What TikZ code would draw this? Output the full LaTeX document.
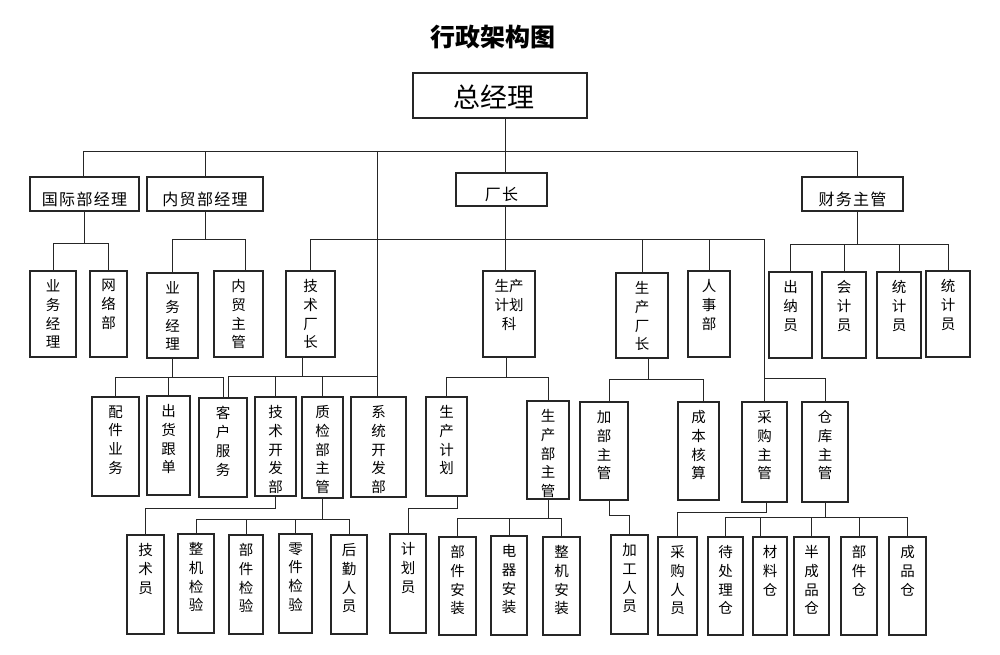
\documentclass[tikz,border=0pt]{standalone}
\usepackage{fontspec}
\setmainfont{Noto Sans CJK SC}
\newfontfamily\rowfont[LetterSpace=8]{Noto Sans CJK SC}
\tikzset{
  box/.style={draw=black!85, line width=1.1pt, inner sep=0pt},
  colbox/.style={box, label={[anchor=north, inner sep=0pt, yshift=-9pt, align=center,
      font=\fontsize{14.5}{18.7}\selectfont]north:{#1}}},
  rowbox/.style={box, label={[inner sep=0pt, yshift=-5pt,
      font=\rowfont\fontsize{16}{18}\selectfont]center:{#1}}},
  link/.style={draw=black!85, line width=0.9pt}
}
\begin{document}
\begin{tikzpicture}[x=1pt,y=-1pt]
  \useasboundingbox (0,0) rectangle (1000,655);
  \node[font=\bfseries\fontsize{25}{28}\selectfont] (title) at (493,37) {行政架构图};
  \node[box, minimum width=174, minimum height=45,
    label={[inner sep=0pt, xshift=-6pt, yshift=-1.5pt, font=\fontsize{27}{30}\selectfont]center:总经理}] (gm) at (500,95.5) {};

  % second level
  \node[rowbox=国际部经理, minimum width=109, minimum height=34] (gj) at (84.5,194) {};
  \node[rowbox=内贸部经理, minimum width=116, minimum height=34] (nm) at (205,194) {};
  \node[rowbox=厂长, minimum width=91, minimum height=33] (cz) at (501.5,189.5) {};
  \node[rowbox=财务主管, minimum width=101, minimum height=34] (cw) at (852.5,194) {};

  % third level
  \node[colbox={业\\务\\经\\理}, minimum width=46, minimum height=86] (ywA) at (53,314) {};
  \node[colbox={网\\络\\部}, minimum width=37, minimum height=86] (wl) at (108.5,314) {};
  \node[colbox={业\\务\\经\\理}, minimum width=51, minimum height=85] (ywB) at (172.5,315.5) {};
  \node[colbox={内\\贸\\主\\管}, minimum width=49, minimum height=86] (nmzg) at (238.5,314) {};
  \node[colbox={技\\术\\厂\\长}, minimum width=49, minimum height=86] (jscz) at (310.5,314) {};
  \node[colbox={生产\\计划\\科}, minimum width=52, minimum height=86] (jhk) at (509,314) {};
  \node[colbox={生\\产\\厂\\长}, minimum width=52, minimum height=85] (sccz) at (642,315.5) {};
  \node[colbox={人\\事\\部}, minimum width=42, minimum height=86] (rs) at (709,314) {};
  \node[colbox={出\\纳\\员}, minimum width=43, minimum height=86] (cn) at (790.5,315) {};
  \node[colbox={会\\计\\员}, minimum width=44, minimum height=86] (kj) at (844,315) {};
  \node[colbox={统\\计\\员}, minimum width=44, minimum height=86] (tjA) at (899,315) {};
  \node[colbox={统\\计\\员}, minimum width=44, minimum height=86] (tjB) at (948,314) {};

  % fourth level
  \node[colbox={配\\件\\业\\务}, minimum width=47, minimum height=99] (pj) at (115.5,446.5) {};
  \node[colbox={出\\货\\跟\\单}, minimum width=43, minimum height=99] (ch) at (168.5,445.5) {};
  \node[colbox={客\\户\\服\\务}, minimum width=48, minimum height=99] (kf) at (223,447.5) {};
  \node[colbox={技\\术\\开\\发\\部}, minimum width=41, minimum height=99] (jskf) at (275.5,446.5) {};
  \node[colbox={质\\检\\部\\主\\管}, minimum width=41, minimum height=101] (zj) at (322.5,447.5) {};
  \node[colbox={系\\统\\开\\发\\部}, minimum width=55, minimum height=100] (xt) at (378.5,447) {};
  \node[colbox={生\\产\\计\\划}, minimum width=41, minimum height=99] (scjh) at (446.5,446.5) {};
  \node[colbox={生\\产\\部\\主\\管}, minimum width=42, minimum height=98] (scb) at (548,450) {};
  \node[colbox={加\\部\\主\\管}, minimum width=48, minimum height=98] (jg) at (604,451) {};
  \node[colbox={成\\本\\核\\算}, minimum width=41, minimum height=98] (cb) at (698.5,451) {};
  \node[colbox={采\\购\\主\\管}, minimum width=45, minimum height=100] (cg) at (764.5,452) {};
  \node[colbox={仓\\库\\主\\管}, minimum width=46, minimum height=100] (ck) at (825,452) {};

  % fifth level
  \node[colbox={技\\术\\员}, minimum width=37, minimum height=99] (jsy) at (145.5,584.5) {};
  \node[colbox={整\\机\\检\\验}, minimum width=36, minimum height=99] (zjjy) at (196,583.5) {};
  \node[colbox={部\\件\\检\\验}, minimum width=34, minimum height=99] (bjjy) at (246,584.5) {};
  \node[colbox={零\\件\\检\\验}, minimum width=33, minimum height=99] (ljjy) at (295.5,583.5) {};
  \node[colbox={后\\勤\\人\\员}, minimum width=36, minimum height=99] (hq) at (349,584.5) {};
  \node[colbox={计\\划\\员}, minimum width=36, minimum height=99] (jhy) at (408,583.5) {};
  \node[colbox={部\\件\\安\\装}, minimum width=37, minimum height=98] (bjaz) at (457.5,586) {};
  \node[colbox={电\\器\\安\\装}, minimum width=36, minimum height=99] (dqaz) at (509,585.5) {};
  \node[colbox={整\\机\\安\\装}, minimum width=37, minimum height=98] (zjaz) at (561.5,586) {};
  \node[colbox={加\\工\\人\\员}, minimum width=37, minimum height=99] (jgry) at (629.5,584.5) {};
  \node[colbox={采\\购\\人\\员}, minimum width=39, minimum height=98] (cgry) at (677.5,586) {};
  \node[colbox={待\\处\\理\\仓}, minimum width=35, minimum height=98] (dcl) at (725.5,586) {};
  \node[colbox={材\\料\\仓}, minimum width=34, minimum height=98] (clc) at (770,586) {};
  \node[colbox={半\\成\\品\\仓}, minimum width=35, minimum height=98] (bcp) at (811.5,586) {};
  \node[colbox={部\\件\\仓}, minimum width=36, minimum height=98] (bjc) at (859,586) {};
  \node[colbox={成\\品\\仓}, minimum width=37, minimum height=98] (cpc) at (907.5,586) {};

  % bus levels
  \coordinate (b1) at (0,151);
  \coordinate (b2) at (0,243);
  \coordinate (b3) at (0,239);
  \coordinate (b4) at (0,239);
  \coordinate (b5) at (0,244);
  \coordinate (b6) at (0,377);
  \coordinate (b7) at (0,376);
  \coordinate (b8) at (0,377);
  \coordinate (b9) at (0,379);
  \coordinate (b10) at (0,378);
  \coordinate (b11) at (0,508);
  \coordinate (b12) at (0,519);
  \coordinate (b13) at (0,508);
  \coordinate (b14) at (0,518);
  \coordinate (b15) at (0,515);
  \coordinate (b16) at (0,512);
  \coordinate (b17) at (0,517);

  % off-centre ends
  \coordinate (gjT) at ([xshift=-1.5]gj.north);
  \coordinate (cwT) at ([xshift=4.5]cw.north);
  \coordinate (czT) at ([xshift=3.5]cz.north);
  \coordinate (xtT) at ([xshift=-1.5]xt.north);
  \coordinate (nmzgT) at ([xshift=7]nmzg.north);
  \coordinate (jsczB) at ([xshift=-8]jscz.south);
  \coordinate (kfT) at ([xshift=5]kf.north);
  \coordinate (jhkB) at ([xshift=-3]jhk.south);
  \coordinate (scczB) at ([xshift=6]sccz.south);
  \coordinate (jgT) at ([xshift=5]jg.north);
  \coordinate (cbT) at ([xshift=4.5]cb.north);
  \coordinate (scjhB) at ([xshift=10.5]scjh.south);
  \coordinate (jgB) at ([xshift=5]jg.south);
  \coordinate (cgB) at ([xshift=1.5]cg.south);
  \coordinate (clcT) at ([xshift=-10]clc.north);

  % general manager
  \draw[link] (czT |- gm.south) -- (czT);
  \draw[link] (gjT) |- (cwT |- b1) -- (cwT);
  \draw[link] (nm.north) -- (nm.north |- b1);
  \draw[link] (xtT |- b1) -- (xtT);

  % second level to third
  \draw[link] (gj.south) -- (gj.south |- b2);
  \draw[link] (ywA.north) |- (wl.north |- b2) -- (wl.north);
  \draw[link] (nm.south) -- (nm.south |- b3);
  \draw[link] (ywB.north) |- (nmzgT |- b3) -- (nmzgT);
  \draw[link] (czT |- cz.south) -- (czT |- jhk.north);
  \draw[link] (jscz.north) |- (cg.north |- b4) -- (cg.north);
  \draw[link] (sccz.north) -- (sccz.north |- b4);
  \draw[link] (rs.north) -- (rs.north |- b4);
  \draw[link] (cwT |- cw.south) -- (cwT |- b5);
  \draw[link] (cn.north) |- (tjB.north |- b5) -- (tjB.north);
  \draw[link] (kj.north) -- (kj.north |- b5);
  \draw[link] (tjA.north) -- (tjA.north |- b5);

  % third level to fourth
  \draw[link] (ywB.south) -- (ywB.south |- b6);
  \draw[link] (pj.north) |- (kf.north |- b6) -- (kf.north);
  \draw[link] (ch.north) -- (ch.north |- b6);
  \draw[link] (jsczB) -- (jsczB |- b7);
  \draw[link] (kfT) |- (xtT |- b7);
  \draw[link] (jskf.north) -- (jskf.north |- b7);
  \draw[link] (zj.north) -- (zj.north |- b7);
  \draw[link] (jhkB) -- (jhkB |- b8);
  \draw[link] (scjh.north) |- (scb.north |- b8) -- (scb.north);
  \draw[link] (scczB) -- (scczB |- b9);
  \draw[link] (jgT) |- (cbT |- b9) -- (cbT);
  \draw[link] (cg.north |- b10) -| (ck.north);

  % fourth level to fifth
  \draw[link] (jskf.south) |- (jsy.north |- b11) -- (jsy.north);
  \draw[link] (zj.south) -- (zj.south |- b12);
  \draw[link] (zjjy.north) |- (hq.north |- b12) -- (hq.north);
  \draw[link] (bjjy.north) -- (bjjy.north |- b12);
  \draw[link] (ljjy.north) -- (ljjy.north |- b12);
  \draw[link] (scjhB) |- (jhy.north |- b13) -- (jhy.north);
  \draw[link] (scb.south) -- (scb.south |- b14);
  \draw[link] (bjaz.north) |- (zjaz.north |- b14) -- (zjaz.north);
  \draw[link] (dqaz.north) -- (dqaz.north |- b14);
  \draw[link] (jgB) |- (jgry.north |- b15) -- (jgry.north);
  \draw[link] (cgB) |- (cgry.north |- b16) -- (cgry.north);
  \draw[link] (ck.south) -- (ck.south |- b17);
  \draw[link] (dcl.north) |- (cpc.north |- b17) -- (cpc.north);
  \draw[link] (clcT) -- (clcT |- b17);
  \draw[link] (bcp.north) -- (bcp.north |- b17);
  \draw[link] (bjc.north) -- (bjc.north |- b17);
\end{tikzpicture}
\end{document}
